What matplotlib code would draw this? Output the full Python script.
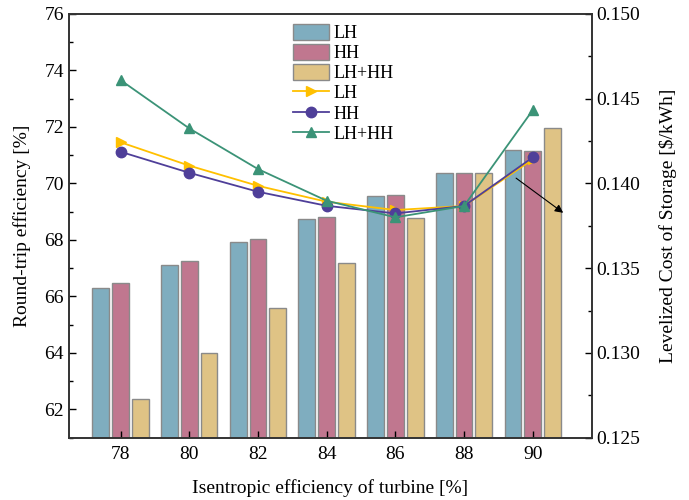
import numpy as np
from matplotlib import pyplot as plt
from matplotlib.ticker import MultipleLocator

plt.rcParams["font.family"] = ["Liberation Serif", "DejaVu Serif"]
plt.rcParams["mathtext.fontset"] = "stix"

# turbine isentropic efficiency [%]
eff = np.array([78, 80, 82, 84, 86, 88, 90])

# round-trip efficiency [%] (bars, left axis)
rte_lh = [66.29, 67.11, 67.93, 68.74, 69.57, 70.37, 71.18]
rte_hh = [66.46, 67.25, 68.02, 68.80, 69.60, 70.37, 71.16]
rte_lhhh = [62.38, 63.99, 65.59, 67.18, 68.78, 70.37, 71.98]

# levelized cost of storage [$/kWh] (lines, right axis)
lcos_lh = [0.14243, 0.14105, 0.13986, 0.13892, 0.13843, 0.13867, 0.14142]
lcos_hh = [0.14187, 0.14063, 0.13951, 0.13868, 0.13823, 0.13867, 0.14154]
lcos_lhhh = [0.14610, 0.14325, 0.14085, 0.13898, 0.13800, 0.13867, 0.14433]

fig = plt.figure(figsize=(6.89, 5.0), dpi=100)
ax = fig.add_axes([0.1001, 0.1248, 0.7589, 0.8472])
ax2 = ax.twinx()

w = 0.49
off = 0.575
edge = dict(edgecolor="#8a8a8a", linewidth=1.0)
b1 = ax.bar(eff - off, np.array(rte_lh) - 61, w, bottom=61, color="#7FADBF", label="LH", **edge)
b2 = ax.bar(eff, np.array(rte_hh) - 61, w, bottom=61, color="#C0778F", label="HH", **edge)
b3 = ax.bar(eff + off, np.array(rte_lhhh) - 61, w, bottom=61, color="#DFC385", label="LH+HH", **edge)

l1, = ax2.plot(eff, lcos_lh, color="#FFC000", marker=">", ms=7.5, lw=1.3, label="LH")
l2, = ax2.plot(eff, lcos_hh, color="#4F3F99", marker="o", ms=7.5, lw=1.3, label="HH")
l3, = ax2.plot(eff, lcos_lhhh, color="#3B9377", marker="^", ms=7.5, lw=1.3, label="LH+HH")

ax.set_xlim(76.5, 91.72)
ax.set_ylim(61, 76)
ax2.set_ylim(0.125, 0.150)
ax.set_xticks(eff)
ax.yaxis.set_major_locator(MultipleLocator(2))
ax.yaxis.set_minor_locator(MultipleLocator(1))
ax2.yaxis.set_major_locator(MultipleLocator(0.005))
ax2.yaxis.set_minor_locator(MultipleLocator(0.0025))
ax2.yaxis.set_major_formatter(plt.FormatStrFormatter("%.3f"))

ax.tick_params(axis="x", direction="in", length=5, width=1, labelsize=14, top=False, pad=6)
ax.tick_params(axis="y", which="major", direction="in", length=5, width=1, labelsize=14, right=False)
ax.tick_params(axis="y", which="minor", direction="in", length=3, width=1, right=False)
ax2.tick_params(axis="y", which="major", direction="in", length=5, width=1, labelsize=14)
ax2.tick_params(axis="y", which="minor", direction="in", length=3, width=1)

for a in (ax, ax2):
    for s in a.spines.values():
        s.set_color("#333333")
        s.set_linewidth(1.2)

ax.set_xlabel("Isentropic efficiency of turbine [%]", fontsize=14, labelpad=12)
ax.set_ylabel("Round-trip efficiency [%]", fontsize=14, labelpad=10)
ax2.set_ylabel("Levelized Cost of Storage [\\$/kWh]", fontsize=14, labelpad=13)

ax2.annotate("", xy=(90.95, 0.13817), xytext=(89.45, 0.14041),
             arrowprops=dict(arrowstyle="-|>", color="black", lw=0.8, mutation_scale=12))

fig.legend([b1, b2, b3, l1, l2, l3], ["LH", "HH", "LH+HH", "LH", "HH", "LH+HH"],
           loc="upper left", bbox_to_anchor=(0.425, 0.952), frameon=False, fontsize=13,
           handlelength=2.0, handleheight=0.95, labelspacing=0.12, handletextpad=0.25,
           borderpad=0, borderaxespad=0)

fig.savefig("out.png", dpi=100)
